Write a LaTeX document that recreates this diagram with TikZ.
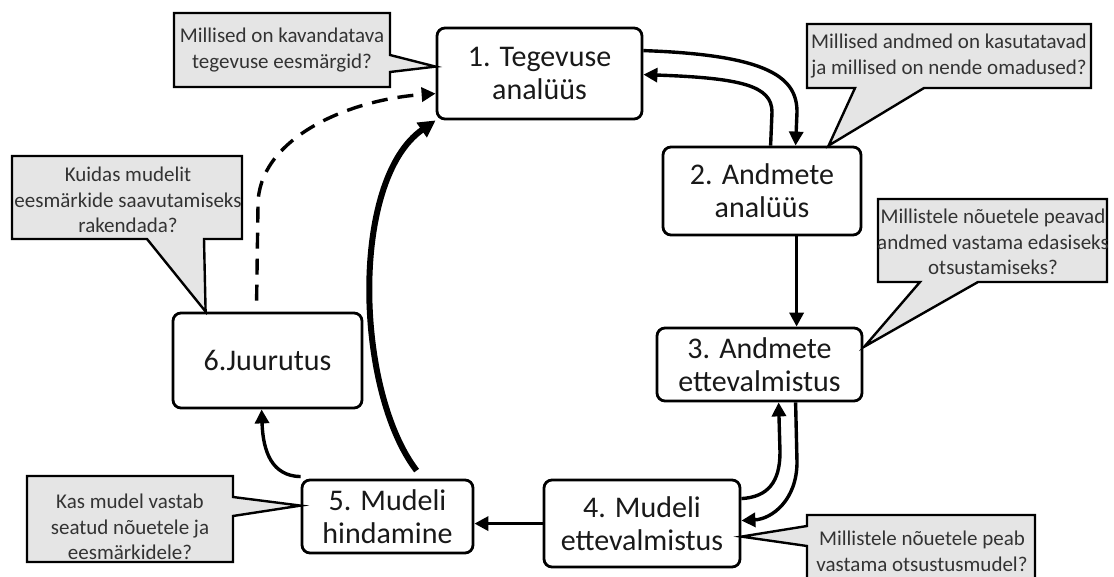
\documentclass[tikz,border=0pt]{standalone}
\usepackage{fontspec}
\setmainfont{Carlito}
\usetikzlibrary{arrows.meta,calc}

\begin{document}
\begin{tikzpicture}[x=1pt,y=-1pt,
  stage/.style={draw, line width=2.8pt, rounded corners=8pt, fill=white,
    align=center, inner sep=0pt, text=black!90,
    font=\fontsize{30}{33}\selectfont},
  balloon/.style={draw, line width=2.4pt, fill=black!10, line join=miter},
  ctext/.style={align=center, inner sep=0pt, text=black!80,
    font=\fontsize{21}{25.6}\selectfont},
  flow/.style={line width=3.4pt, -{Triangle[length=14pt,width=14pt]}},
  bigflow/.style={line width=6pt, -{Triangle[length=17pt,width=17pt]}},
  dflow/.style={line width=3.4pt, dash pattern=on 16pt off 10pt,
    -{Triangle[length=14pt,width=14pt]}}]

\clip (0,0) rectangle (1114,577);
\useasboundingbox (0,0) rectangle (1114,577);

% process stages
\node[stage, minimum width=205pt, minimum height=91pt] (b1) at (539.5,73.5) {1. Tegevuse\\analüüs};
\node[stage, minimum width=198pt, minimum height=88pt] (b2) at (762,191) {2. Andmete\\analüüs};
\node[stage, minimum width=205pt, minimum height=73pt] (b3) at (759.5,364.5) {3. Andmete\\ettevalmistus};
\node[stage, minimum width=196pt, minimum height=87pt] (b4) at (642,523.5) {4. Mudeli\\ettevalmistus};
\node[stage, minimum width=171pt, minimum height=73pt] (b5) at (387.5,516.5) {5. Mudeli\\hindamine};
\node[stage, minimum width=189pt, minimum height=95pt] (b6) at (267.5,360.5) {6.Juurutus};

% speech balloons with the guiding questions
\draw[balloon] (174,13) -- (390,13) -- (390,55) -- ($(b1.north west)+(0,40)$)
  -- (390,72) -- (390,87) -- (174,87) -- cycle;
\node[ctext] (q1) at (282,50) {Millised on kavandatava\\tegevuse eesmärgid?};

\draw[balloon] (807,24) -- (1091,24) -- (1091,88) -- (924,88)
  -- ($(b2.north west)+(167,0)$) -- (855,88) -- (807,88) -- cycle;
\node[ctext] (q2) at (949,56) {Millised andmed on kasutatavad\\ja millised on nende omadused?};

\draw[balloon] (878,199) -- (1107,199) -- (1107,282) -- (978,282)
  -- ($(b3.north east)+(1,20)$) -- (920,282) -- (878,282) -- cycle;
\node[ctext] (q3) at (993,242) {Millistele nõuetele peavad\\andmed vastama edasiseks\\otsustamiseks?};

\draw[balloon] (807,515) -- (1035,515) -- (1035,595) -- (807,595) -- (807,546)
  -- ($(b4.north east)+(0,58)$) -- (807,526) -- cycle;
\node[ctext] (q4) at (922,551) {Millistele nõuetele peab\\vastama otsustusmudel?};

\draw[balloon] (27,476) -- (233,476) -- (233,497) -- ($(b5.north west)+(0,27)$)
  -- (233,516) -- (233,562) -- (27,562) -- cycle;
\node[ctext] (q5) at (130,527) {Kas mudel vastab\\seatud nõuetele ja\\eesmärkidele?};

\draw[balloon] (12,156) -- (242,156) -- (242,239) -- (204,239)
  -- ($(b6.north west)+(34,0)$) -- (147,239) -- (12,239) -- cycle;
\node[ctext] (q6) at (128,200) {Kuidas mudelit\\eesmärkide saavutamiseks\\rakendada?};

% transitions between stages
\draw[flow] ($(b1.north east)+(0,24)$) .. controls (770,55) and (797,78) .. (797,112)
  -- ($(b2.north west)+(134,0)$);
\draw[flow] ($(b2.north west)+(109,0)$) -- (772,112) .. controls (772,86) and (742,78)
  .. ($(b1.north east)+(0,48)$);
\draw[flow] ($(b2.south west)+(135,0)$) -- ($(b3.north west)+(141,0)$);
\draw[flow] ($(b3.south west)+(140,0)$) -- (797,462) .. controls (797,500) and (772,519)
  .. ($(b4.north east)+(0,42)$);
\draw[flow] ($(b4.north east)+(0,20)$) .. controls (768,497) and (780,482) .. (780,452)
  -- ($(b3.south west)+(123,0)$);
\draw[flow] ($(b4.north west)+(0,45)$) -- ($(b5.north east)+(0,45)$);
\draw[flow] ($(b5.north west)+(0,-2)$) .. controls (272,476) and (263,452)
  .. ($(b6.south west)+(90,0)$);
\draw[bigflow] ($(b5.north west)+(116,-8)$) .. controls (355,390) and (350,180)
  .. (b1.south west);
\draw[dflow] ($(b6.north west)+(85,-11)$) -- (258,205) .. controls (258,140) and (345,100)
  .. ($(b1.north west)+(0,67)$);
\end{tikzpicture}
\end{document}
